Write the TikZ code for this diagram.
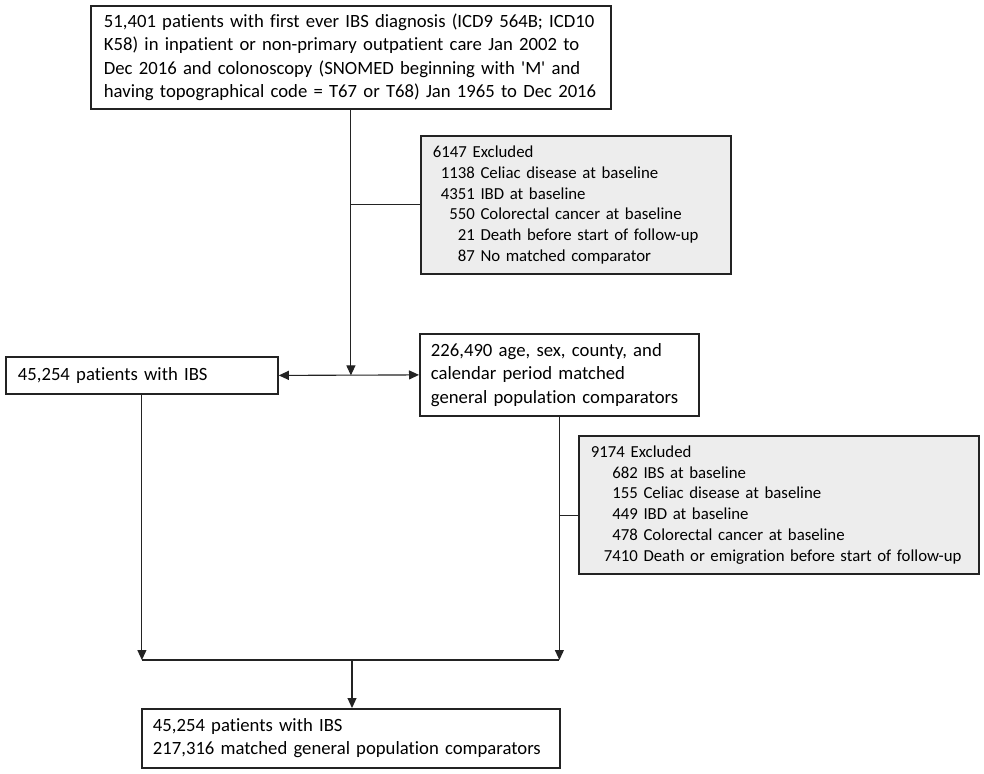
\documentclass[tikz,border=0pt]{standalone}
\usepackage{fontspec}
\newfontfamily\boxfont{Carlito}[Ligatures=NoCommon]
\usetikzlibrary{arrows.meta}

\definecolor{exclfill}{RGB}{237,237,237}
\definecolor{linegray}{RGB}{35,35,35}

\tikzset{
  flowbox/.style={draw=linegray, line width=1.8pt, anchor=north west, align=left,
    inner xsep=12pt, inner ysep=0pt, font=\boxfont\fontsize{18.7}{23.4}\selectfont},
  exclbox/.style={flowbox, fill=exclfill, font=\boxfont\fontsize{16.8}{20.7}\selectfont},
  flow/.style={draw=linegray, line width=1.1pt},
  arr/.style={flow, -{Triangle[length=10pt,width=9pt]}},
  dblarr/.style={flow, {Triangle[length=10pt,width=9pt]}-{Triangle[length=10pt,width=9pt]}}
}
\newcommand{\exnum}[3]{\makebox[#1][r]{#2} #3}

\begin{document}
\begin{tikzpicture}[x=1pt,y=-1pt]
\useasboundingbox (0,0) rectangle (984,773);

%% cohort boxes
\node[flowbox, inner xsep=13pt, text width=494pt, minimum height=103pt](screen) at (90,5){%
51,401 patients with first ever IBS diagnosis (ICD9 564B; ICD10\\
K58) in inpatient or non-primary outpatient care Jan 2002 to\\
Dec 2016 and colonoscopy (SNOMED beginning with 'M' and\\
having topographical code = T67 or T68) Jan 1965 to Dec 2016};

\node[flowbox, text width=248pt, minimum height=37pt](ibs) at (5,356){45,254 patients with IBS};
\node[flowbox, inner xsep=11pt, text width=257pt, minimum height=82pt](comp) at (419,333){%
226,490 age, sex, county, and\\
calendar period matched\\
general population comparators};

\node[flowbox, inner xsep=11pt, text width=396pt, minimum height=59pt](final) at (141,708){%
45,254 patients with IBS\\
217,316 matched general population comparators};

%% exclusions
\node[exclbox, text width=286pt, minimum height=138pt](excl_ibs) at (420,135){%
6147 Excluded\\
\exnum{42pt}{1138}{Celiac disease at baseline}\\
\exnum{42pt}{4351}{IBD at baseline}\\
\exnum{42pt}{550}{Colorectal cancer at baseline}\\
\exnum{42pt}{21}{Death before start of follow-up}\\
\exnum{42pt}{87}{No matched comparator}};

\node[exclbox, text width=376pt, minimum height=138pt](excl_comp) at (578,435){%
9174 Excluded\\
\exnum{47pt}{682}{IBS at baseline}\\
\exnum{47pt}{155}{Celiac disease at baseline}\\
\exnum{47pt}{449}{IBD at baseline}\\
\exnum{47pt}{478}{Colorectal cancer at baseline}\\
\exnum{47pt}{7410}{Death or emigration before start of follow-up}};

\coordinate (merge) at (352,660);
\coordinate (excl_comp_in) at ([yshift=-11pt]excl_comp.west);

%% connectors
\draw[arr] (screen.south) -- (screen.south |- ibs.east);
\draw[flow] (screen.south |- excl_ibs.west) -- (excl_ibs.west);
\draw[dblarr] (ibs.east) -- (comp.west);

\draw[arr] (ibs.south) -- (ibs.south |- merge);
\draw[arr] (comp.south) -- (comp.south |- merge);
\draw[flow] (ibs.south |- merge) -- (comp.south |- merge);
\draw[flow] (comp.south |- excl_comp_in) -- (excl_comp_in);
\draw[arr] (merge) -- (merge |- final.north);

\end{tikzpicture}
\end{document}
